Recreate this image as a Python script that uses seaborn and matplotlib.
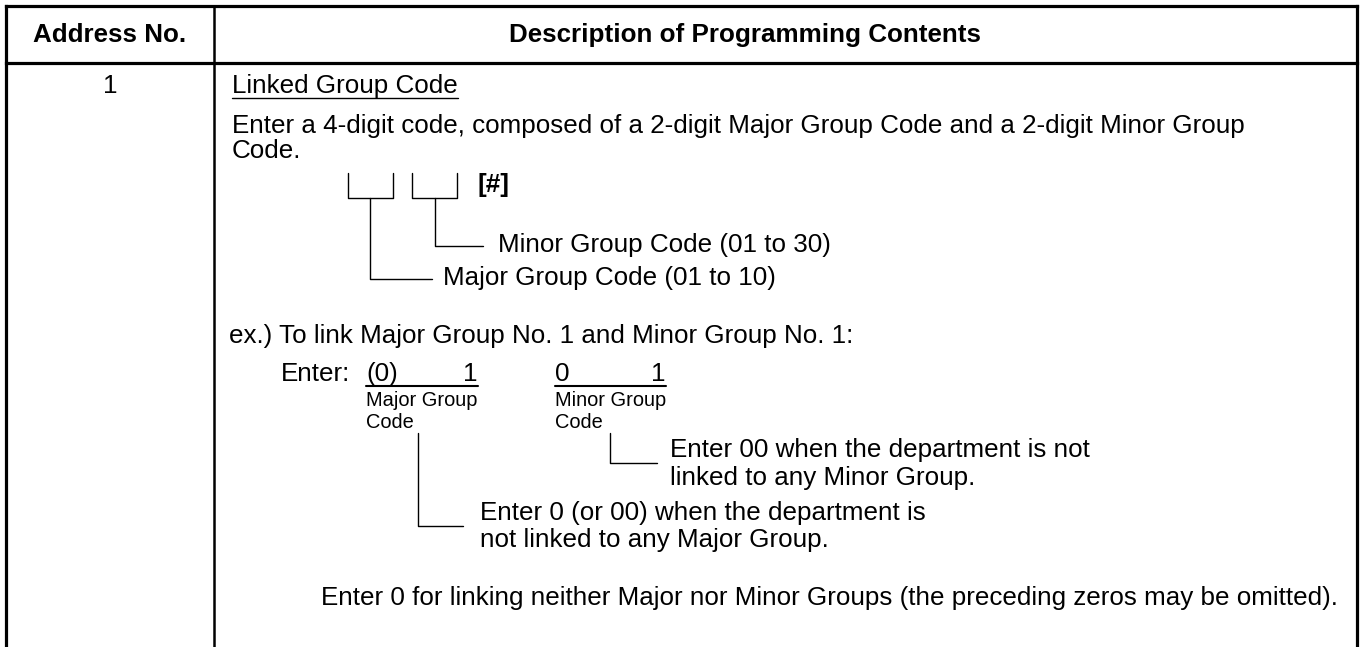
import seaborn as sns
import matplotlib.pyplot as plt

# table content
headers = ["Address No.", "Description of Programming Contents"]
address_no = ["1"]
item_title = "Linked Group Code"
intro_lines = ["Enter a 4-digit code, composed of a 2-digit Major Group Code and a 2-digit Minor Group",
               "Code."]
key_label = "[#]"
code_labels = ["Minor Group Code (01 to 30)", "Major Group Code (01 to 10)"]
example_title = "ex.) To link Major Group No. 1 and Minor Group No. 1:"
example_enter = "Enter:"
major_digits = ["(0)", "1"]
minor_digits = ["0", "1"]
sub_labels = [["Major Group", "Code"], ["Minor Group", "Code"]]
minor_note = ["Enter 00 when the department is not", "linked to any Minor Group."]
major_note = ["Enter 0 (or 00) when the department is", "not linked to any Major Group."]
final_note = "Enter 0 for linking neither Major nor Minor Groups (the preceding zeros may be omitted)."

sns.set_theme(style="white")
plt.rcParams["font.family"] = ["Liberation Sans", "DejaVu Sans"]
plt.rcParams["text.color"] = "black"

W, H = 1361, 647
fig = plt.figure(figsize=(W / 100, H / 100), dpi=100)
ax = fig.add_axes([0, 0, 1, 1])
ax.set_xlim(0, W)
ax.set_ylim(H, 0)
ax.axis("off")

FS = 18.7
FS_SMALL = 14.4
thick = dict(color="black", lw=2.3, solid_capstyle="projecting")
thin = dict(color="black", lw=1.0)

# frame
ax.plot([6, 1357], [6, 6], **thick)
ax.plot([6, 1357], [63, 63], **thick)
ax.plot([6, 6], [6, H], **thick)
ax.plot([1357, 1357], [6, H], **thick)
ax.plot([214, 214], [6, H], color="black", lw=1.8)

ax.text(110, 35, headers[0], ha="center", va="center", fontsize=FS, weight="bold")
ax.text(745, 35, headers[1], ha="center", va="center", fontsize=FS, weight="bold")
ax.text(110, 86, address_no[0], ha="center", va="center", fontsize=FS)

def underline(t, y, lw=1.0):
    fig.canvas.draw()
    bb = t.get_window_extent(renderer=fig.canvas.get_renderer())
    inv = ax.transData.inverted()
    x0, _ = inv.transform((bb.x0, bb.y0))
    x1, _ = inv.transform((bb.x1, bb.y0))
    ax.plot([x0, x1], [y, y], color="black", lw=lw)

t = ax.text(232, 86, item_title, ha="left", va="center", fontsize=FS)
underline(t, 98)

for i, line in enumerate(intro_lines):
    ax.text(232, 126 + i * 25, line, ha="left", va="center", fontsize=FS)

# digit brackets
for x0, x1 in [(348, 393), (412, 457)]:
    ax.plot([x0, x0, x1, x1], [173, 198, 198, 173], **thin)
ax.text(478, 185, key_label, ha="left", va="center", fontsize=FS, weight="bold")

# leader lines to code descriptions
ax.plot([435, 435, 483], [198, 246, 246], **thin)
ax.text(498, 245, code_labels[0], ha="left", va="center", fontsize=FS)
ax.plot([370, 370, 432], [198, 279, 279], **thin)
ax.text(443, 278, code_labels[1], ha="left", va="center", fontsize=FS)

# example
ax.text(229, 336, example_title, ha="left", va="center", fontsize=FS)
ax.text(281, 374, example_enter, ha="left", va="center", fontsize=FS)
for (xl, xr), digits, subs in [((366, 478), major_digits, sub_labels[0]),
                               ((555, 666), minor_digits, sub_labels[1])]:
    ax.text(xl, 374, digits[0], ha="left", va="center", fontsize=FS)
    ax.text(xr, 374, digits[1], ha="right", va="center", fontsize=FS)
    ax.plot([xl, xr], [386, 386], color="black", lw=1.5)
    ax.text(xl, 401, subs[0], ha="left", va="center", fontsize=FS_SMALL)
    ax.text(xl, 423, subs[1], ha="left", va="center", fontsize=FS_SMALL)

ax.plot([610, 610, 657], [433, 463, 463], **thin)
for i, line in enumerate(minor_note):
    ax.text(670, 450 + i * 28, line, ha="left", va="center", fontsize=FS)

ax.plot([418, 418, 463], [433, 526, 526], **thin)
for i, line in enumerate(major_note):
    ax.text(480, 513 + i * 27, line, ha="left", va="center", fontsize=FS)

ax.text(1338, 598, final_note, ha="right", va="center", fontsize=FS)

fig.savefig("out.png", dpi=100)
